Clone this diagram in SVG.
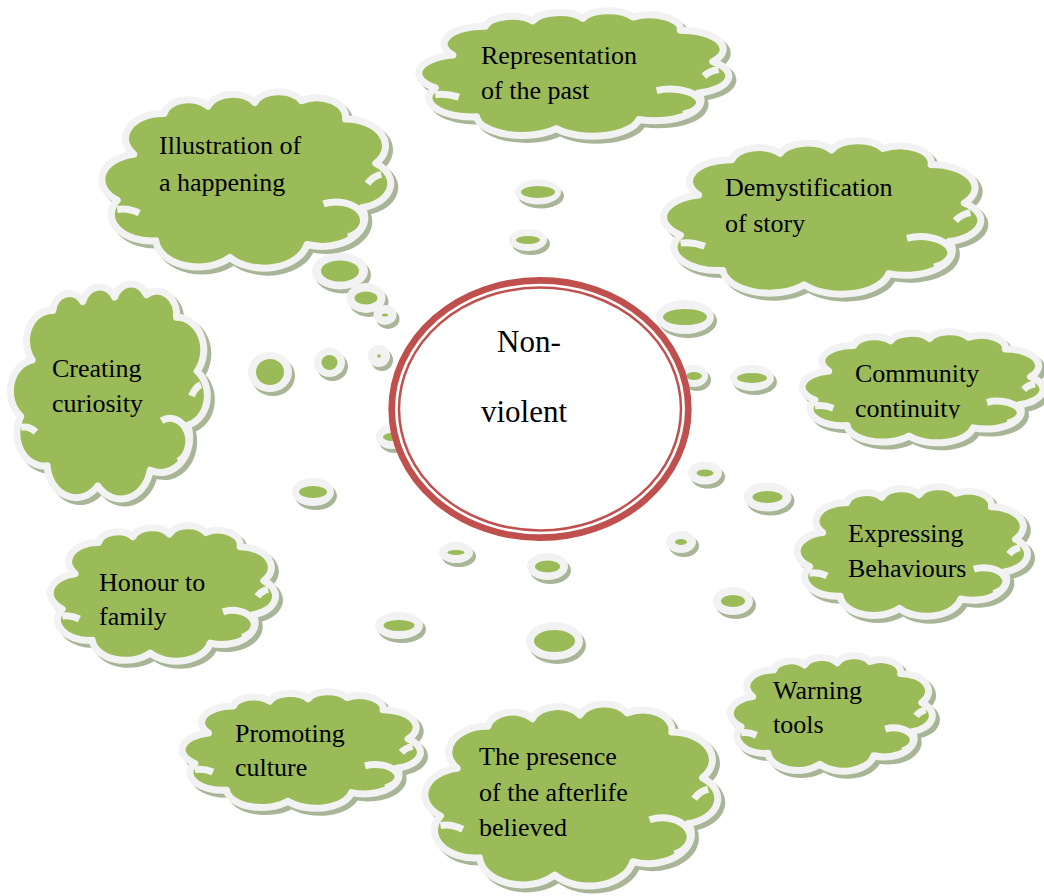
<svg xmlns="http://www.w3.org/2000/svg" width="1044" height="896" viewBox="0 0 1044 896">
<style>
.sh{fill:#a9b597;stroke:#a9b597;stroke-width:7}
.cl{fill:#9bbb59;stroke:#f2f2f2;stroke-width:7;stroke-linejoin:round}
.in{fill:none;stroke:#f2f2f2;stroke-width:7}
.bo{fill:#f2f2f2}
.bg{fill:#9bbb59}
.bs{fill:#a9b597}
text{font-family:'Liberation Serif','Times New Roman',serif;font-size:26px;fill:#000}
.c{font-size:31px}
</style>
<defs>
<path id="cloud" vector-effect="non-scaling-stroke" d="M9,33 A13.5,13.5 0 0 1 20,11 A9,9 0 0 1 36,7 A9.5,9.5 0 0 1 53,5 A9.5,9.5 0 0 1 70,4 A10.5,10.5 0 0 1 86,14 A14.5,14.5 0 0 1 97,38 A13.5,13.5 0 0 1 92,62 A15.5,15.5 0 0 1 72,82 A16,16 0 0 1 44,89 A15.5,15.5 0 0 1 17,80 A14.5,14.5 0 0 1 3,58 A14,14 0 0 1 9,33 Z"/>
<path id="inner" vector-effect="non-scaling-stroke" d="M78,60 A10,10 0 0 1 87,78 M99,44 Q96,45 94,49 M3,63 Q7,62 11,65"/>
<clipPath id="clipCont"><rect x="800" y="320" width="244" height="98.5"/></clipPath>
</defs>
<g id="connectors">
<g class="bs">
<ellipse cx="541" cy="196" rx="23" ry="12.5"/>
<ellipse cx="531" cy="244" rx="19" ry="11"/>
<ellipse cx="343" cy="275" rx="28" ry="18.5"/>
<ellipse cx="369" cy="302" rx="19.5" ry="15"/>
<ellipse cx="388" cy="319" rx="11.5" ry="10"/>
<ellipse cx="273" cy="376" rx="22" ry="20"/>
<ellipse cx="332.5" cy="366.5" rx="15.5" ry="14.5"/>
<ellipse cx="382" cy="360" rx="11" ry="11"/>
<ellipse cx="395" cy="441" rx="16" ry="12"/>
<ellipse cx="688" cy="321" rx="29" ry="17"/>
<ellipse cx="697" cy="380" rx="14" ry="11"/>
<ellipse cx="755" cy="382" rx="22" ry="13"/>
<ellipse cx="708" cy="477" rx="17" ry="11.5"/>
<ellipse cx="770.5" cy="501" rx="24" ry="14.5"/>
<ellipse cx="684" cy="546" rx="15" ry="11"/>
<ellipse cx="736" cy="605" rx="20" ry="14"/>
<ellipse cx="316" cy="496" rx="21" ry="14"/>
<ellipse cx="459" cy="556.5" rx="17" ry="10.5"/>
<ellipse cx="550.5" cy="570.5" rx="20.5" ry="13.5"/>
<ellipse cx="402" cy="629.5" rx="24" ry="13.5"/>
<ellipse cx="557.5" cy="645" rx="28.5" ry="19"/>
</g>
<g class="bo">
<ellipse cx="538" cy="192" rx="23" ry="12.5"/>
<ellipse cx="528" cy="240" rx="19" ry="11"/>
<ellipse cx="340" cy="271" rx="28" ry="18.5"/>
<ellipse cx="366" cy="298" rx="19.5" ry="15"/>
<ellipse cx="385" cy="315" rx="11.5" ry="10"/>
<ellipse cx="270" cy="372" rx="22" ry="20"/>
<ellipse cx="329.5" cy="362.5" rx="15.5" ry="14.5"/>
<ellipse cx="379" cy="356" rx="11" ry="11"/>
<ellipse cx="392" cy="437" rx="16" ry="12"/>
<ellipse cx="685" cy="317" rx="29" ry="17"/>
<ellipse cx="694" cy="376" rx="14" ry="11"/>
<ellipse cx="752" cy="378" rx="22" ry="13"/>
<ellipse cx="705" cy="473" rx="17" ry="11.5"/>
<ellipse cx="767.5" cy="497" rx="24" ry="14.5"/>
<ellipse cx="681" cy="542" rx="15" ry="11"/>
<ellipse cx="733" cy="601" rx="20" ry="14"/>
<ellipse cx="313" cy="492" rx="21" ry="14"/>
<ellipse cx="456" cy="552.5" rx="17" ry="10.5"/>
<ellipse cx="547.5" cy="566.5" rx="20.5" ry="13.5"/>
<ellipse cx="399" cy="625.5" rx="24" ry="13.5"/>
<ellipse cx="554.5" cy="641" rx="28.5" ry="19"/>
</g>
<g class="bg">
<ellipse cx="538" cy="192" rx="17" ry="6"/>
<ellipse cx="528" cy="240" rx="12" ry="4"/>
<ellipse cx="340" cy="271" rx="19" ry="10.5"/>
<ellipse cx="366" cy="298" rx="11.5" ry="6.5"/>
<ellipse cx="385" cy="315" rx="3" ry="1.5"/>
<ellipse cx="270" cy="372" rx="14" ry="13"/>
<ellipse cx="329.5" cy="362.5" rx="8" ry="7.5"/>
<ellipse cx="379" cy="356" rx="1.8" ry="1.8"/>
<ellipse cx="392" cy="437" rx="9" ry="4"/>
<ellipse cx="685" cy="317" rx="22" ry="8"/>
<ellipse cx="694" cy="376" rx="8" ry="4"/>
<ellipse cx="752" cy="378" rx="15" ry="5"/>
<ellipse cx="705" cy="473" rx="8.5" ry="3.5"/>
<ellipse cx="767.5" cy="497" rx="15" ry="6"/>
<ellipse cx="681" cy="542" rx="6" ry="3"/>
<ellipse cx="733" cy="601" rx="12" ry="6"/>
<ellipse cx="313" cy="492" rx="14" ry="6"/>
<ellipse cx="456" cy="552.5" rx="8.5" ry="2.5"/>
<ellipse cx="547.5" cy="566.5" rx="12.5" ry="6"/>
<ellipse cx="399" cy="625.5" rx="15.5" ry="5.5"/>
<ellipse cx="554.5" cy="641" rx="20.5" ry="11"/>
</g>
</g>
<g id="center">
<ellipse cx="540" cy="409" rx="148.3" ry="128.7" fill="#fff" stroke="#c0504d" stroke-width="6.7"/>
<ellipse cx="540" cy="409" rx="141" ry="121.5" fill="none" stroke="#c0504d" stroke-width="2.5"/>
<text class="c" x="497" y="352" font-family="Liberation Serif, serif">Non-</text>
<text class="c" x="481" y="422" font-family="Liberation Serif, serif">violent</text>
</g>
<g id="n1">
<use href="#cloud" class="sh" transform="translate(430.4 15.8) scale(2.952 1.3125)"/>
<use href="#cloud" class="cl" transform="translate(426.4 11.8) scale(2.952 1.3125)"/>
<use href="#inner" class="in" transform="translate(426.4 11.8) scale(2.952 1.3125)"/>
<text x="481" y="64" font-family="Liberation Serif, serif">Representation</text>
<text x="481" y="99" font-family="Liberation Serif, serif">of the past</text>
</g>
<g id="n2">
<use href="#cloud" class="sh" transform="translate(113 97.3) scale(2.75 1.844)"/>
<use href="#cloud" class="cl" transform="translate(109 93.3) scale(2.75 1.844)"/>
<use href="#inner" class="in" transform="translate(109 93.3) scale(2.75 1.844)"/>
<text x="159" y="154" font-family="Liberation Serif, serif">Illustration of</text>
<text x="159" y="191" font-family="Liberation Serif, serif">a happening</text>
</g>
<g id="n3">
<use href="#cloud" class="sh" transform="translate(675.5 146.1) scale(3.019 1.604)"/>
<use href="#cloud" class="cl" transform="translate(671.5 142.1) scale(3.019 1.604)"/>
<use href="#inner" class="in" transform="translate(671.5 142.1) scale(3.019 1.604)"/>
<text x="725" y="196" font-family="Liberation Serif, serif">Demystification</text>
<text x="725" y="232" font-family="Liberation Serif, serif">of story</text>
</g>
<g id="n4">
<use href="#cloud" class="sh" transform="translate(19.25 289.75) scale(1.875 2.25)"/>
<use href="#cloud" class="cl" transform="translate(15.25 285.75) scale(1.875 2.25)"/>
<use href="#inner" class="in" transform="translate(15.25 285.75) scale(1.875 2.25)"/>
<text x="52" y="377" font-family="Liberation Serif, serif">Creating</text>
<text x="52" y="412" font-family="Liberation Serif, serif">curiosity</text>
</g>
<g id="n5">
<use href="#cloud" class="sh" transform="translate(812.1 336.7) scale(2.293 1.161)"/>
<use href="#cloud" class="cl" transform="translate(808.1 332.7) scale(2.293 1.161)"/>
<use href="#inner" class="in" transform="translate(808.1 332.7) scale(2.293 1.161)"/>
<text x="855" y="382" font-family="Liberation Serif, serif">Community</text>
<text x="855" y="417" font-family="Liberation Serif, serif" clip-path="url(#clipCont)">continuity</text>
</g>
<g id="n6">
<use href="#cloud" class="sh" transform="translate(806.9 491.9) scale(2.192 1.354)"/>
<use href="#cloud" class="cl" transform="translate(802.9 487.9) scale(2.192 1.354)"/>
<use href="#inner" class="in" transform="translate(802.9 487.9) scale(2.192 1.354)"/>
<text x="848" y="542" font-family="Liberation Serif, serif">Expressing</text>
<text x="848" y="577" font-family="Liberation Serif, serif">Behaviours</text>
</g>
<g id="n7">
<use href="#cloud" class="sh" transform="translate(59.8 530.9) scale(2.144 1.417)"/>
<use href="#cloud" class="cl" transform="translate(55.8 526.9) scale(2.144 1.417)"/>
<use href="#inner" class="in" transform="translate(55.8 526.9) scale(2.144 1.417)"/>
<text x="99" y="591" font-family="Liberation Serif, serif">Honour to</text>
<text x="99" y="625" font-family="Liberation Serif, serif">family</text>
</g>
<g id="n8">
<use href="#cloud" class="sh" transform="translate(739.3 660.7) scale(1.923 1.208)"/>
<use href="#cloud" class="cl" transform="translate(735.3 656.7) scale(1.923 1.208)"/>
<use href="#inner" class="in" transform="translate(735.3 656.7) scale(1.923 1.208)"/>
<text x="773" y="699" font-family="Liberation Serif, serif">Warning</text>
<text x="773" y="733" font-family="Liberation Serif, serif">tools</text>
</g>
<g id="n9">
<use href="#cloud" class="sh" transform="translate(192 696.7) scale(2.269 1.219)"/>
<use href="#cloud" class="cl" transform="translate(188 692.7) scale(2.269 1.219)"/>
<use href="#inner" class="in" transform="translate(188 692.7) scale(2.269 1.219)"/>
<text x="235" y="742" font-family="Liberation Serif, serif">Promoting</text>
<text x="235" y="776" font-family="Liberation Serif, serif">culture</text>
</g>
<g id="n10">
<use href="#cloud" class="sh" transform="translate(436.1 709.4) scale(2.788 1.906)"/>
<use href="#cloud" class="cl" transform="translate(432.1 705.4) scale(2.788 1.906)"/>
<use href="#inner" class="in" transform="translate(432.1 705.4) scale(2.788 1.906)"/>
<text x="479" y="765" font-family="Liberation Serif, serif">The presence</text>
<text x="479" y="801" font-family="Liberation Serif, serif">of the afterlife</text>
<text x="479" y="836" font-family="Liberation Serif, serif">believed</text>
</g>
</svg>
